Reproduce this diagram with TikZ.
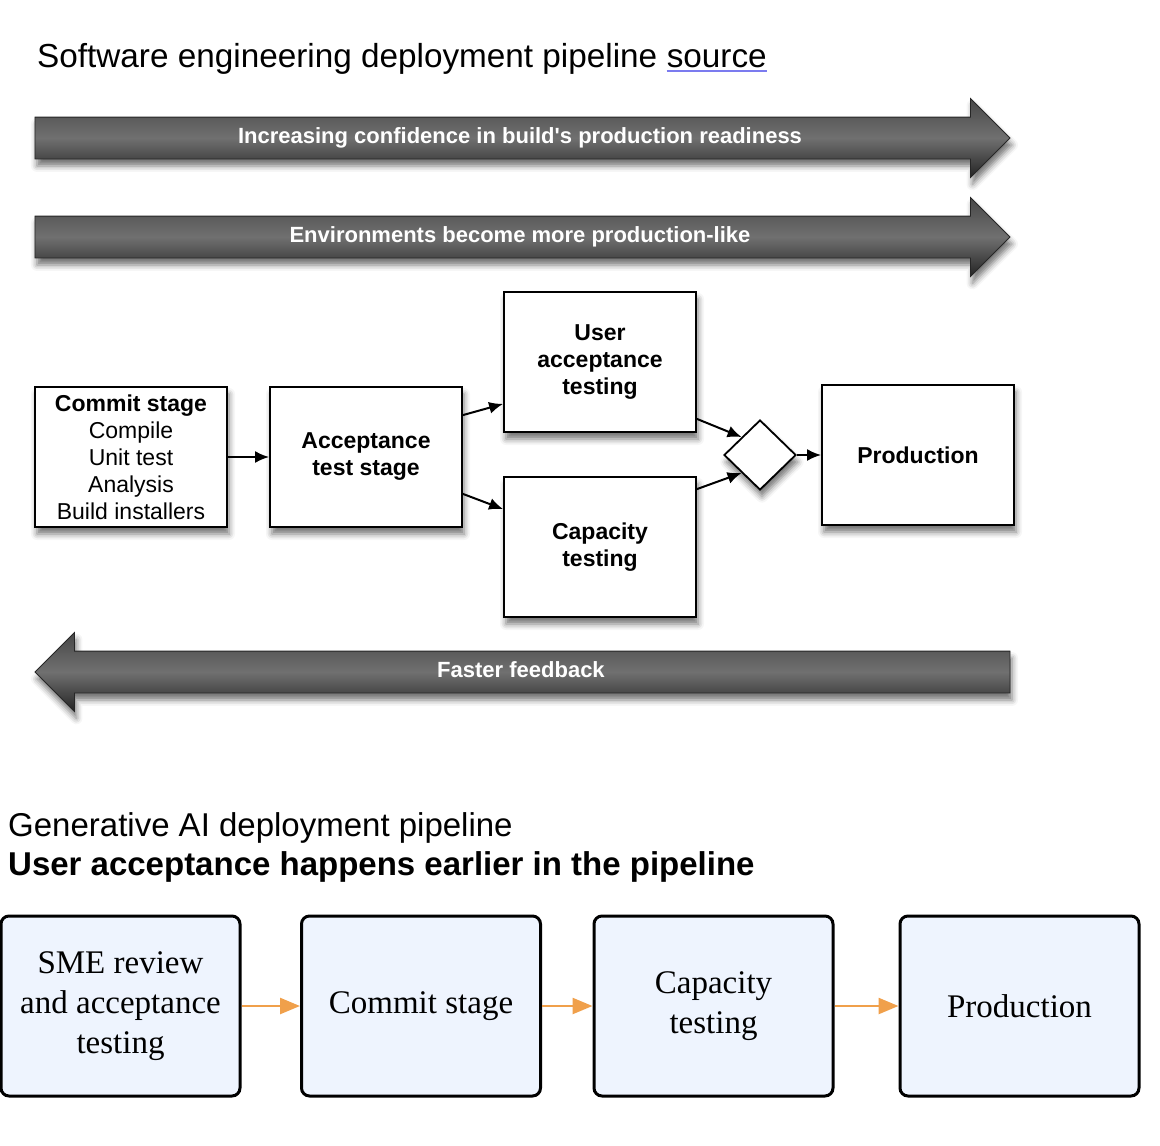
\documentclass[tikz,border=0pt]{standalone}
\usepackage{fontspec}
\setmainfont{Liberation Sans}
\newfontfamily\timesfont{Liberation Serif}
\usepackage{xcolor}
\usepackage{tikz}
\usetikzlibrary{calc}
\usetikzlibrary{arrows.meta}
\usetikzlibrary{shapes}
\usetikzlibrary{shapes.arrows}
\usetikzlibrary{shapes.geometric}
\usetikzlibrary{positioning}
\usetikzlibrary{shadows.blur}
\definecolor{linkblue}{HTML}{7B7BEF}
\definecolor{boxblue}{HTML}{EEF4FE}
\definecolor{flowor}{HTML}{F0A04B}
\tikzset{>=latex}
\tikzstyle{soft} = [blur shadow = {shadow xshift = 2pt, shadow yshift = -7pt, shadow blur radius = 6pt, shadow opacity = 55}]
\tikzstyle{stage} = [rectangle, draw = black, line width = 1.8, fill = white, minimum width = 192, minimum height = 140, inner sep = 2, align = center, font = \fontsize{23}{27}\selectfont, soft]
\tikzstyle{band} = [single arrow, single arrow head extend = 18.5, draw = black!85, line width = 0.8, top color = black!72, bottom color = black!86, middle color = black!56, text = white, font = \bfseries\fontsize{22}{26}\selectfont, text height = 15, text depth = 5, inner xsep = 0, inner ysep = 10.5, minimum height = 975, soft]
\tikzstyle{pass} = [-{Latex[length = 14, width = 12]}, line width = 2]
\tikzstyle{genbox} = [rectangle, rounded corners = 8, draw = black, line width = 3, fill = boxblue, minimum width = 239, minimum height = 180, align = center, font = \timesfont\fontsize{33}{40}\selectfont]

\begin{document}
\begin{tikzpicture}[x = 1pt, y = -1pt]
\useasboundingbox (0, 0) rectangle (1160, 1146);
\node [anchor = base west, inner sep = 0, font = \fontsize{33.3}{40}\selectfont] (T) at (37, 67) {Software engineering deployment pipeline};
\node [anchor = base west, inner sep = 0, font = \fontsize{33.3}{40}\selectfont] (Src) at ($(T.base east) + (9, 0)$) {source};
\draw [draw = linkblue, line width = 2] ([yshift = -4]Src.base west) -- ([yshift = -4]Src.base east);

% text box padded so the words sit where the picture has them
\node [band] (Conf) at (512, 138) {\hspace*{16pt}Increasing confidence in build\textquotesingle s production readiness};
\node [band] (Env) at (512, 237) {\hspace*{16pt}Environments become more production-like};
\node [band, shape border rotate = 180] (Fast) at (533, 672) {Faster feedback\hspace*{24pt}};

\node [stage] (C) at (131, 457) {\textbf{Commit stage}\\Compile\\Unit test\\Analysis\\Build installers};
\node [stage, font = \bfseries\fontsize{23}{27}\selectfont] (A) at (366, 457) {Acceptance\\test stage};
\node [stage, font = \bfseries\fontsize{23}{27}\selectfont] (U) at (600, 362) {User\\acceptance\\testing};
\node [stage, font = \bfseries\fontsize{23}{27}\selectfont] (Cap) at (600, 547) {Capacity\\testing};
\node [diamond, draw = black, line width = 1.8, fill = white, minimum width = 72, minimum height = 70, inner sep = 0, soft] (D) at (760, 455) {};
\node [stage, font = \bfseries\fontsize{23}{27}\selectfont] (P) at (918, 455) {Production};
\draw [pass] (C) -- (A);
\draw [pass] ([yshift = -29]A.north east) -- ([yshift = 29]U.south west);
\draw [pass] ([yshift = 34]A.south east) -- ([yshift = -33]Cap.north west);
\draw [pass] ([yshift = 14]U.south east) -- (D.north west);
\draw [pass] ([yshift = -13]Cap.north east) -- (D.south west);
\draw [pass] (D) -- (P);

\node [anchor = base west, inner sep = 0, font = \fontsize{33}{40}\selectfont] (G) at (8, 836) {Generative AI deployment pipeline};
\node [anchor = base west, inner sep = 0, font = \bfseries\fontsize{33}{40}\selectfont] (Gb) at (8, 875) {User acceptance happens earlier in the pipeline};

\node [genbox] (S1) at (120.5, 1006) {SME review\\and acceptance\\testing};
\node [genbox] (S2) at (421, 1006) {Commit stage};
\node [genbox] (S3) at (713.5, 1006) {Capacity\\testing};
\node [genbox] (S4) at (1019.5, 1006) {Production};
\draw [-{Triangle[length = 20, width = 16]}, draw = flowor, line width = 2.5] (S1) -- (S2);
\draw [-{Triangle[length = 20, width = 16]}, draw = flowor, line width = 2.5] (S2) -- (S3);
\draw [-{Triangle[length = 20, width = 16]}, draw = flowor, line width = 2.5] (S3) -- (S4);
\end{tikzpicture}
\end{document}
